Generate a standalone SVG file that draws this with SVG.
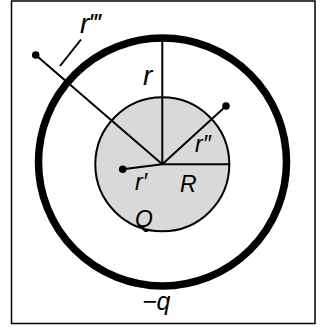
<svg xmlns="http://www.w3.org/2000/svg" width="323" height="327" viewBox="0 0 323 327">
<style>
.ln{stroke:#000;stroke-width:2;fill:none}
.lb{font-family:"Liberation Sans",Arial,sans-serif;font-style:italic;font-size:23px;fill:#000}
.big{font-size:28px}
</style>
<rect x="0" y="0" width="323" height="327" fill="#fff"/>
<rect x="11.5" y="1" width="303.5" height="322.5" fill="none" stroke="#000" stroke-width="1.5"/>
<g id="shell"><circle cx="162.5" cy="162" r="124" fill="none" stroke="#000" stroke-width="7.5"/></g>
<g id="sphere"><circle cx="162.3" cy="164.3" r="67" fill="#d9d9d9" stroke="#000" stroke-width="2"/></g>
<g id="connectors">
<line class="ln" x1="162.3" y1="164.3" x2="162.3" y2="40"/>
<line class="ln" x1="162.3" y1="164.3" x2="35.7" y2="55"/>
<line class="ln" x1="162.3" y1="164.3" x2="226" y2="106"/>
<line class="ln" x1="162.3" y1="164.3" x2="229.3" y2="164.3"/>
<line class="ln" x1="162.3" y1="164.3" x2="122.7" y2="169.3"/>
<line class="ln" x1="60" y1="66" x2="81" y2="39.5"/>
</g>
<g id="points">
<circle cx="35.7" cy="55" r="3.8"/>
<circle cx="226" cy="106" r="3.8"/>
<circle cx="122.7" cy="169.3" r="3.8"/>
</g>
<g id="labels">
<text class="lb big" x="80" y="33">r‴</text>
<text class="lb big" x="143" y="85">r</text>
<text class="lb" x="195" y="152">r″</text>
<text class="lb" x="135" y="190">r′</text>
<text class="lb" x="180" y="192">R</text>
<text class="lb" x="135" y="227">Q</text>
<text class="lb" x="142" y="310" style="font-size:25px">−q</text>
</g>
</svg>
